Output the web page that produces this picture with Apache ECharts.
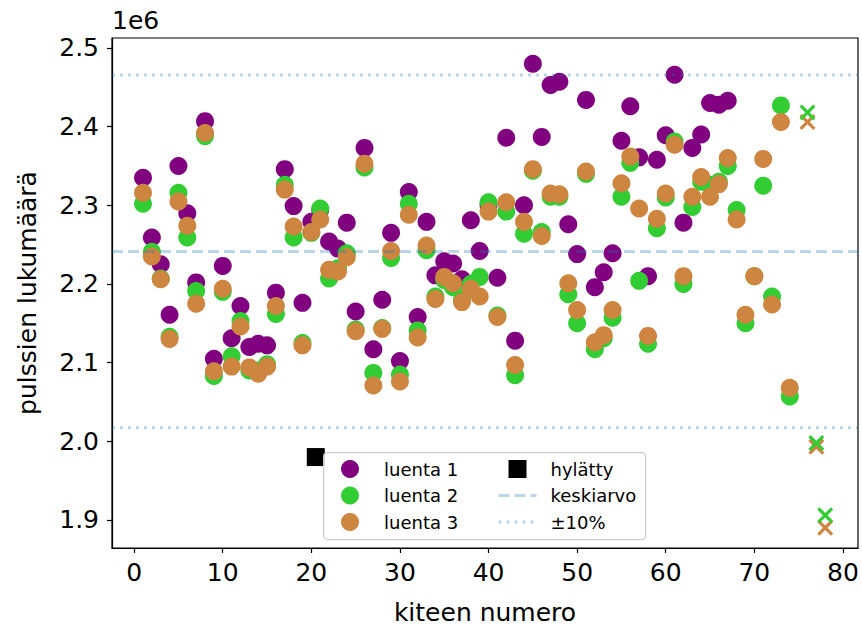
<!DOCTYPE html>
<html>
<head>
<meta charset="utf-8">
<script src="https://cdn.jsdelivr.net/npm/echarts@6/dist/echarts.min.js"></script>
<style>
  html, body { margin: 0; padding: 0; background: #fff; }
  #chart { width: 862px; height: 633px; }
</style>
</head>
<body>
<div id="chart"></div>
<script>
// values in units of 1e6
const xs = [1,2,3,4,5,6,7,8,9,10,11,12,13,14,15,16,17,18,19,20,21,22,23,24,25,26,27,28,29,30,
  31,32,33,34,35,36,37,38,39,40,41,42,43,44,45,46,47,48,49,50,51,52,53,54,55,56,57,58,59,60,
  61,62,63,64,65,66,67,68,69,70,71,72,73,74]

const luenta1 = [2.335,2.259,2.225,2.161,2.350,2.290,2.202,2.407,2.105,2.223,
  2.131,2.172,2.120,2.124,2.122,2.189,2.346,2.299,2.176,2.279,
  2.294,2.254,2.245,2.278,2.165,2.373,2.117,2.180,2.265,2.102,
  2.317,2.158,2.279,2.211,2.229,2.226,2.206,2.281,2.242,2.300,
  2.208,2.386,2.128,2.300,2.480,2.387,2.453,2.457,2.276,2.238,
  2.434,2.196,2.215,2.239,2.382,2.426,2.361,2.210,2.358,2.389,
  2.466,2.278,2.373,2.390,2.430,2.428,2.433,null,null,null,
  null,null,null,null]

const luenta2 = [2.302,2.241,2.207,2.133,2.316,2.259,2.191,2.388,2.083,2.190,
  2.108,2.153,2.090,2.090,2.098,2.162,2.326,2.259,2.125,2.265,
  2.296,2.207,2.220,2.239,2.142,2.348,2.087,2.144,2.233,2.085,
  2.302,2.141,2.243,2.184,2.205,2.196,2.180,2.200,2.209,2.304,
  2.160,2.292,2.084,2.264,2.344,2.266,2.311,2.311,2.187,2.150,
  2.340,2.117,2.131,2.157,2.311,2.354,2.204,2.124,2.271,2.310,
  2.381,2.200,2.298,2.330,2.326,2.330,2.350,2.294,2.150,2.210,
  2.325,2.184,2.427,2.057]

const luenta3 = [2.316,2.235,2.206,2.130,2.305,2.274,2.175,2.392,2.089,2.194,
  2.095,2.146,2.094,2.086,2.095,2.172,2.320,2.273,2.122,2.266,
  2.282,2.218,2.216,2.234,2.140,2.353,2.071,2.143,2.242,2.076,
  2.288,2.132,2.249,2.181,2.209,2.201,2.177,2.194,2.184,2.292,
  2.158,2.304,2.097,2.279,2.346,2.261,2.315,2.314,2.201,2.167,
  2.343,2.126,2.135,2.167,2.328,2.362,2.296,2.134,2.283,2.315,
  2.377,2.210,2.311,2.336,2.311,2.327,2.360,2.282,2.161,2.210,
  2.359,2.174,2.406,2.068]

// crystals marked with a cross
const crossX = [76, 77, 78]
const cross2 = [2.418, 1.998, 1.906]
const cross3 = [2.406, 1.993, 1.890]

const rejectedX = [20.5]
const rejectedY = [1.980]

const mean = 2.2414
const xMin = -2.5, xMax = 81.7
const yMin = 1.8644, yMax = 2.5127

const font = 'DejaVu Sans'
const lineColor = 'rgba(31,119,180,0.3)'
const crossPath = 'path://M0,1.4L1.4,0L5,3.6L8.6,0L10,1.4L6.4,5L10,8.6L8.6,10L5,6.4L1.4,10L0,8.6L3.6,5Z'

function pairs(x, y) {
  return x.map((v, i) => [v, y[i]]).filter(p => p[1] != null)
}

function dot(name, color, ys) {
  return {
    name: name,
    type: 'scatter',
    data: pairs(xs, ys),
    symbol: 'circle',
    symbolSize: 18,
    itemStyle: { color: color, opacity: 1 },
    z: 2
  }
}

function hline(name, y, dash) {
  return {
    name: name,
    type: 'line',
    data: [[xMin, y], [xMax, y]],
    symbol: 'none',
    silent: true,
    itemStyle: { color: 'rgba(0,0,0,0)', opacity: 0 },
    lineStyle: { color: lineColor, width: 3, type: dash, cap: 'butt' },
    z: 4
  }
}

const chart = echarts.init(document.getElementById('chart'), null, { renderer: 'svg' })

const option = {
  animation: false,
  backgroundColor: '#fff',
  textStyle: { fontFamily: font, color: '#000' },
  grid: {
    left: 112, right: 4, top: 38, bottom: 85,
    show: true, borderColor: '#000', borderWidth: 1.2, backgroundColor: 'transparent'
  },
  xAxis: {
    type: 'value',
    min: xMin, max: xMax,
    splitNumber: 8,
    name: 'kiteen numero',
    nameLocation: 'middle',
    nameGap: 52,
    nameTextStyle: { fontSize: 25, color: '#000', fontFamily: font },
    axisLine: { show: true, onZero: false, lineStyle: { color: '#000', width: 1.2 } },
    axisTick: { show: true, length: 5, lineStyle: { color: '#000', width: 1.2 } },
    axisLabel: { fontSize: 25, color: '#000', fontFamily: font, margin: 12, showMinLabel: false, showMaxLabel: false },
    splitLine: { show: false }
  },
  yAxis: {
    type: 'value',
    min: yMin, max: yMax,
    splitNumber: 6,
    name: 'pulssien lukumäärä',
    nameLocation: 'middle',
    nameRotate: 90,
    nameGap: 72,
    nameTextStyle: { fontSize: 25, color: '#000', fontFamily: font },
    axisLine: { show: true, onZero: false, lineStyle: { color: '#000', width: 1.2 } },
    axisTick: { show: true, length: 5, lineStyle: { color: '#000', width: 1.2 } },
    axisLabel: {
      fontSize: 25, color: '#000', fontFamily: font, margin: 13,
      showMinLabel: false, showMaxLabel: false,
      formatter: v => v.toFixed(1)
    },
    splitLine: { show: false }
  },
  legend: [
    {
      data: ['luenta 1', 'luenta 2', 'luenta 3'],
      orient: 'vertical',
      left: 341, top: 460,
      padding: 0,
      itemWidth: 18, itemHeight: 18, itemGap: 8.5,
      textStyle: { fontSize: 18, color: '#000', fontFamily: font, padding: [0, 0, 0, 20] },
      selectedMode: false,
      z: 6
    },
    {
      data: [
        { name: 'hylätty', icon: 'path://M0,0H10V10H0Z' },
        'keskiarvo',
        '±10%'
      ],
      orient: 'vertical',
      left: 497, top: 460,
      padding: 0,
      itemWidth: 38, itemHeight: 18, itemGap: 8.5,
      lineStyle: { width: 3 },
      textStyle: { fontSize: 18, color: '#000', fontFamily: font, padding: [0, 0, 0, 9] },
      selectedMode: false,
      z: 6
    }
  ],
  graphic: [
    {
      type: 'text', left: 112, top: 8, z: 10,
      style: { text: '1e6', fontSize: 25, fontFamily: font, fill: '#000' }
    },
    {
      type: 'rect', left: 323, top: 452, z: 5,
      shape: { width: 322, height: 87, r: 4 },
      style: { fill: 'rgba(255,255,255,0.8)', stroke: '#cccccc', lineWidth: 1.2 }
    }
  ],
  series: [
    dot('luenta 1', '#800080', luenta1),
    dot('luenta 2', '#32cd32', luenta2),
    dot('luenta 3', '#cd853f', luenta3),
    {
      name: 'luenta 3 x',
      type: 'scatter',
      data: pairs(crossX, cross3),
      symbol: crossPath,
      symbolSize: 16,
      itemStyle: { color: '#cd853f', opacity: 1 },
      z: 2
    },
    {
      name: 'luenta 2 x',
      type: 'scatter',
      data: pairs(crossX, cross2),
      symbol: crossPath,
      symbolSize: 16,
      itemStyle: { color: '#32cd32', opacity: 1 },
      z: 2
    },
    {
      name: 'hylätty',
      type: 'scatter',
      data: pairs(rejectedX, rejectedY),
      symbol: 'rect',
      symbolSize: 18,
      itemStyle: { color: '#000', opacity: 1 },
      z: 2
    },
    hline('keskiarvo', mean, [11, 5]),
    hline('±10%', mean * 1.1, [3, 5]),
    hline('±10%', mean * 0.9, [3, 5])
  ]
}

chart.setOption(option)
</script>
</body>
</html>
